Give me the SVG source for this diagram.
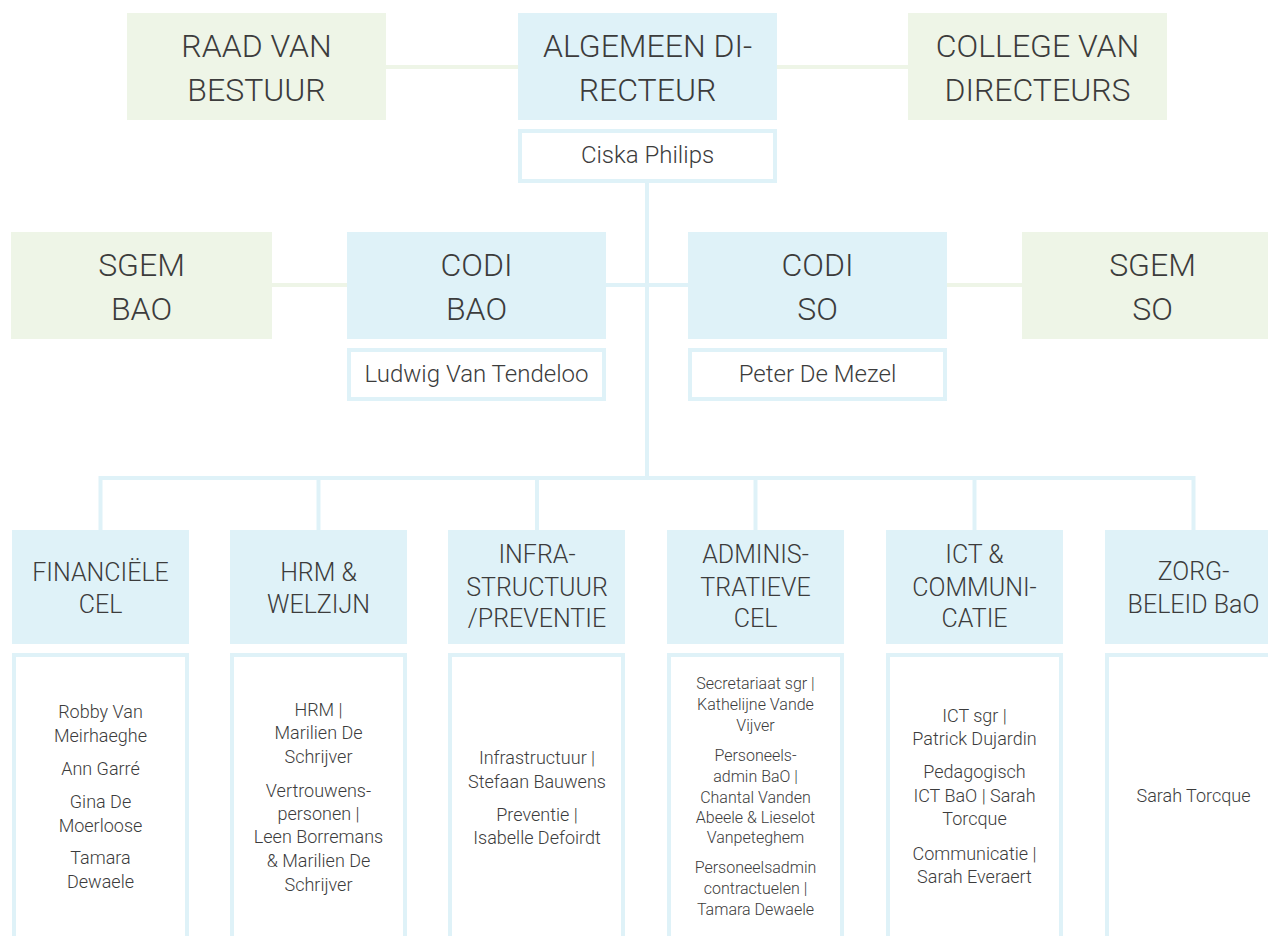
<svg xmlns="http://www.w3.org/2000/svg" width="1268" height="936" viewBox="0 0 1268 936">
<style>
.bg{fill:#ffffff}
.blue{fill:#dff2f8}
.green{fill:#eef5e7}
.name{fill:#ffffff;stroke:#dff2f8;stroke-width:4}
.lb{fill:none;stroke:#dff2f8;stroke-width:4}
.lg{fill:none;stroke:#eef5e7;stroke-width:4}
text{font-family:Roboto,"Liberation Sans",sans-serif;font-weight:300;fill:#3c3c3c;text-anchor:middle}
.h1{font-size:32px}
.h2{font-size:25px}
.n{font-size:24px}
.p{font-size:18px}
.ps{font-size:16px}
</style>
<rect class="bg" x="0" y="0" width="1268" height="936"/>
<g id="connectors">
<line class="lg" x1="386" y1="67" x2="518" y2="67"/>
<line class="lg" x1="777" y1="67" x2="908" y2="67"/>
<line class="lg" x1="272" y1="285" x2="347" y2="285"/>
<line class="lg" x1="947" y1="285" x2="1022" y2="285"/>
<line class="lb" x1="606" y1="285" x2="688" y2="285"/>
<line class="lb" x1="647" y1="183" x2="647" y2="478"/>
<polyline class="lb" points="100.5,530 100.5,478 1193.5,478 1193.5,530"/>
<line class="lb" x1="318.5" y1="478" x2="318.5" y2="530"/>
<line class="lb" x1="537" y1="478" x2="537" y2="530"/>
<line class="lb" x1="755.5" y1="478" x2="755.5" y2="530"/>
<line class="lb" x1="974.5" y1="478" x2="974.5" y2="530"/>
</g>
<g id="raad">
<rect class="green" x="127" y="13" width="259" height="107"/>
<text class="h1" x="256.5" y="57">RAAD VAN</text>
<text class="h1" x="256.5" y="101">BESTUUR</text>
</g>
<g id="algemeen">
<rect class="blue" x="518" y="13" width="259" height="107"/>
<text class="h1" x="647.5" y="57">ALGEMEEN DI-</text>
<text class="h1" x="647.5" y="101">RECTEUR</text>
</g>
<g id="college">
<rect class="green" x="908" y="13" width="259" height="107"/>
<text class="h1" x="1037.5" y="57">COLLEGE VAN</text>
<text class="h1" x="1037.5" y="101">DIRECTEURS</text>
</g>
<g id="ciska">
<rect class="name" x="520" y="131" width="255" height="50"/>
<text class="n" x="647.5" y="163">Ciska Philips</text>
</g>
<g id="sgem-bao">
<rect class="green" x="11" y="232" width="261" height="107"/>
<text class="h1" x="141.5" y="276">SGEM</text>
<text class="h1" x="141.5" y="320">BAO</text>
</g>
<g id="codi-bao">
<rect class="blue" x="347" y="232" width="259" height="107"/>
<text class="h1" x="476.5" y="276">CODI</text>
<text class="h1" x="476.5" y="320">BAO</text>
</g>
<g id="ludwig">
<rect class="name" x="349" y="350" width="255" height="49"/>
<text class="n" x="476.5" y="382">Ludwig Van Tendeloo</text>
</g>
<g id="codi-so">
<rect class="blue" x="688" y="232" width="259" height="107"/>
<text class="h1" x="817.5" y="276">CODI</text>
<text class="h1" x="817.5" y="320">SO</text>
</g>
<g id="peter">
<rect class="name" x="690" y="350" width="255" height="49"/>
<text class="n" x="817.5" y="382">Peter De Mezel</text>
</g>
<g id="sgem-so">
<rect class="green" x="1022" y="232" width="261" height="107"/>
<text class="h1" x="1152.5" y="276">SGEM</text>
<text class="h1" x="1152.5" y="320">SO</text>
</g>
<g id="financiele">
<rect class="blue" x="12" y="530" width="177" height="114"/>
<text class="h2" x="100.5" y="581">FINANCIËLE</text>
<text class="h2" x="100.5" y="613">CEL</text>
<rect class="name" x="14" y="655" width="173" height="320"/>
<text class="p" x="100.5" y="718">Robby Van</text>
<text class="p" x="100.5" y="742">Meirhaeghe</text>
<text class="p" x="100.5" y="775">Ann Garré</text>
<text class="p" x="100.5" y="808">Gina De</text>
<text class="p" x="100.5" y="832">Moerloose</text>
<text class="p" x="100.5" y="864">Tamara</text>
<text class="p" x="100.5" y="888">Dewaele</text>
</g>
<g id="hrm">
<rect class="blue" x="230" y="530" width="177" height="114"/>
<text class="h2" x="318.5" y="581">HRM &amp;</text>
<text class="h2" x="318.5" y="613">WELZIJN</text>
<rect class="name" x="232" y="655" width="173" height="320"/>
<text class="p" x="318.5" y="716">HRM |</text>
<text class="p" x="318.5" y="739">Marilien De</text>
<text class="p" x="318.5" y="763">Schrijver</text>
<text class="p" x="318.5" y="797">Vertrouwens-</text>
<text class="p" x="318.5" y="820">personen |</text>
<text class="p" x="318.5" y="843">Leen Borremans</text>
<text class="p" x="318.5" y="867">&amp; Marilien De</text>
<text class="p" x="318.5" y="891">Schrijver</text>
</g>
<g id="infra">
<rect class="blue" x="448" y="530" width="177" height="114"/>
<text class="h2" x="537" y="563">INFRA-</text>
<text class="h2" x="537" y="596">STRUCTUUR</text>
<text class="h2" x="537" y="627">/PREVENTIE</text>
<rect class="name" x="450" y="655" width="173" height="320"/>
<text class="p" x="537" y="764">Infrastructuur |</text>
<text class="p" x="537" y="788">Stefaan Bauwens</text>
<text class="p" x="537" y="821">Preventie |</text>
<text class="p" x="537" y="844">Isabelle Defoirdt</text>
</g>
<g id="admin">
<rect class="blue" x="667" y="530" width="177" height="114"/>
<text class="h2" x="755.5" y="563">ADMINIS-</text>
<text class="h2" x="755.5" y="596">TRATIEVE</text>
<text class="h2" x="755.5" y="627">CEL</text>
<rect class="name" x="669" y="655" width="173" height="320"/>
<text class="ps" x="755.5" y="689">Secretariaat sgr |</text>
<text class="ps" x="755.5" y="710">Kathelijne Vande</text>
<text class="ps" x="755.5" y="731">Vijver</text>
<text class="ps" x="755.5" y="761">Personeels-</text>
<text class="ps" x="755.5" y="782">admin BaO |</text>
<text class="ps" x="755.5" y="803">Chantal Vanden</text>
<text class="ps" x="755.5" y="823">Abeele &amp; Lieselot</text>
<text class="ps" x="755.5" y="843">Vanpeteghem</text>
<text class="ps" x="755.5" y="873">Personeelsadmin</text>
<text class="ps" x="755.5" y="894">contractuelen |</text>
<text class="ps" x="755.5" y="915">Tamara Dewaele</text>
</g>
<g id="ict">
<rect class="blue" x="886" y="530" width="177" height="114"/>
<text class="h2" x="974.5" y="563">ICT &amp;</text>
<text class="h2" x="974.5" y="596">COMMUNI-</text>
<text class="h2" x="974.5" y="627">CATIE</text>
<rect class="name" x="888" y="655" width="173" height="320"/>
<text class="p" x="974.5" y="722">ICT sgr |</text>
<text class="p" x="974.5" y="745">Patrick Dujardin</text>
<text class="p" x="974.5" y="778">Pedagogisch</text>
<text class="p" x="974.5" y="802">ICT BaO | Sarah</text>
<text class="p" x="974.5" y="825">Torcque</text>
<text class="p" x="974.5" y="860">Communicatie |</text>
<text class="p" x="974.5" y="883">Sarah Everaert</text>
</g>
<g id="zorg">
<rect class="blue" x="1105" y="530" width="177" height="114"/>
<text class="h2" x="1193.5" y="580">ZORG-</text>
<text class="h2" x="1193.5" y="613">BELEID BaO</text>
<rect class="name" x="1107" y="655" width="173" height="320"/>
<text class="p" x="1193.5" y="802">Sarah Torcque</text>
</g>
</svg>
